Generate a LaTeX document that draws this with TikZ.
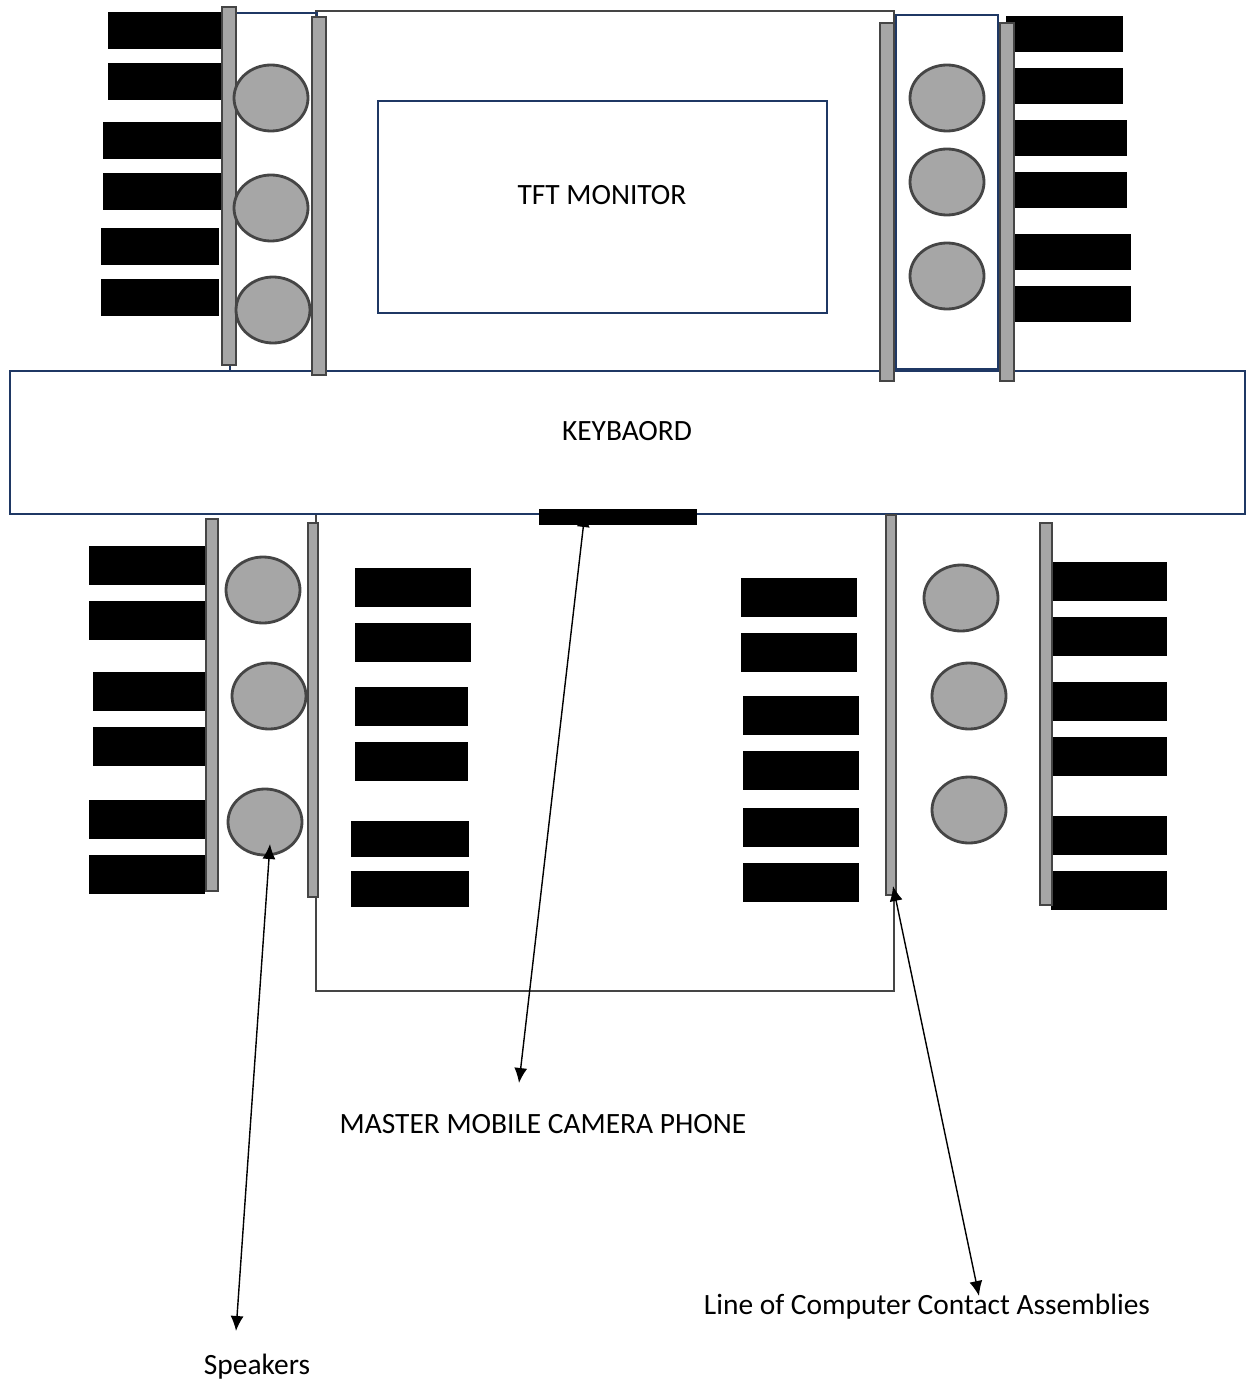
\documentclass[tikz,border=0pt]{standalone}
\usepackage{fontspec}
\setmainfont{Carlito}
\usetikzlibrary{arrows.meta}
\definecolor{navy}{HTML}{1F3864}
\definecolor{steel}{HTML}{A6A6A6}
\definecolor{rim}{HTML}{454545}
\tikzset{
	frameline/.style={draw=navy,line width=1.6pt},
	bodyline/.style={draw=rim,line width=1.6pt},
	contact/.style={draw=rim,fill=steel,line width=1.6pt},
	speaker/.style={draw=rim,fill=steel,line width=1.6pt},
	pad/.style={fill=black},
	callout/.style={{Latex[length=3mm,width=2.6mm]}-{Latex[length=3mm,width=2.6mm]},line width=0.8pt},
	caption/.style={font=\fontsize{16.75pt}{20pt}\selectfont,inner sep=0pt}
}
\begin{document}
\begin{tikzpicture}[x=0.02cm,y=-0.02cm]
	\useasboundingbox (0,0) rectangle (1251,1382);

	% Housing, then the keyboard on top of it
	\draw[bodyline] (316,11) rectangle (894,991);
	\draw[frameline] (230,13) rectangle (317,371);
	\draw[frameline,fill=white] (896,15) rectangle (998,369);
	\draw[frameline,fill=white] (378,101) rectangle (827,313);
	\draw[frameline,fill=white] (10,371) rectangle (1245,514);
	\node[caption] (monitor) at (602,195) {TFT MONITOR};
	\node[caption] (keyboard) at (627,431) {KEYBAORD};

	% Contact pads: left, right, top, bottom
	\foreach \xa/\xb/\ya/\yb in {
		107.5/222/12/49, 107.5/222/63/100, 103/221/122/159, 103/221/173/210, 101/219/228/265, 101/219/279/316,
		1006/1123/16/52, 1006/1123/68/104, 1006/1127/120/156, 1006/1127/172/208, 1006/1131/234/270, 1006/1131/286/322,
		89/205/546/585, 89/205/601/640, 93/205/672/711, 93/205/727/766, 89/205/800/839, 89/205/855/894,
		355/471/568/607, 355/471/623/662, 355/468/687/726, 355/468/742/781, 351/469/821/857, 351/469/871/907,
		741/857/578/617, 741/857/633/672, 743/859/696/735, 743/859/751/790, 743/859/808/847, 743/859/863/902,
		1053/1167/562/601, 1053/1167/617/656, 1053/1167/682/721, 1053/1167/737/776, 1053/1167/816/855, 1051/1167/871/910}
		\fill[pad] (\xa,\ya) rectangle (\xb,\yb);

	% Contact strips
	\foreach \xa/\xb/\ya/\yb in {
		222/236/7/365, 312/326/17/375, 880/894/23/381, 1000/1014/23/381,
		206/218/519/891, 308/318/523/897, 886/896/515/895, 1040/1052/523/905}
		\draw[contact] (\xa,\ya) rectangle (\xb,\yb);

	% Speakers
	\foreach \cx/\cy in {
		271/98, 271/208, 273/310, 947/98, 947/182, 947/276,
		263/590, 269/696, 265/822, 961/598, 969/696, 969/810}
		\draw[speaker] (\cx,\cy) ellipse [x radius=37,y radius=33];

	% Camera phone sits on the keyboard edge
	\fill[pad] (539,509) rectangle (697,525);

	\node[caption] (cameralabel) at (543,1124.5) {MASTER MOBILE CAMERA PHONE};
	\node[caption] (speakerlabel) at (257,1366.5) {Speakers};
	\node[caption] (contactlabel) at (927,1306.5) {Line of Computer Contact Assemblies};

	\coordinate (camera) at (585,512);
	\coordinate (cameraend) at (519,1083);
	\coordinate (speakertip) at (270,844);
	\coordinate (speakerend) at (236,1331);
	\coordinate (contacttip) at (893,886);
	\coordinate (contactend) at (979,1296);

	\draw[callout] (camera) -- (cameraend);
	\draw[callout] (speakertip) -- (speakerend);
	\draw[callout] (contacttip) -- (contactend);
\end{tikzpicture}
\end{document}
